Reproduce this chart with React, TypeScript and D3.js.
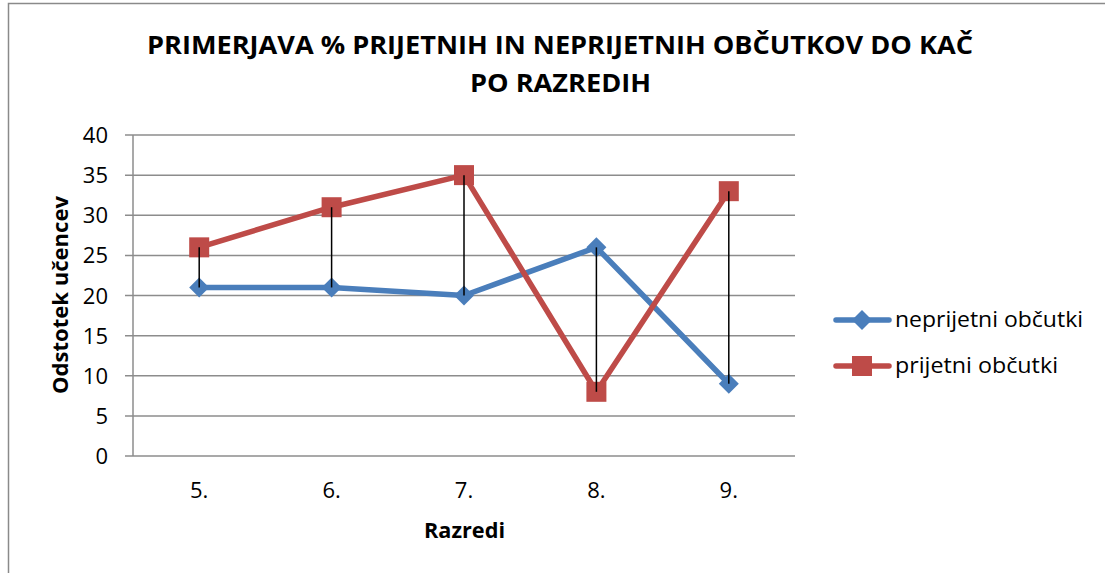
import React from 'react'
import * as d3 from 'd3'

const categories = ['5.', '6.', '7.', '8.', '9.']
const neprijetni = [21, 21, 20, 26, 9]
const prijetni = [26, 31, 35, 8, 33]
const yTicks = [0, 5, 10, 15, 20, 25, 30, 35, 40]
const seriesNames = ['neprijetni občutki', 'prijetni občutki']
const titleLines = ['PRIMERJAVA % PRIJETNIH IN NEPRIJETNIH OBČUTKOV DO KAČ', 'PO RAZREDIH']

const W = 1105
const H = 573
const font = '"Open Sans", "Noto Sans", sans-serif'
const blue = '#4a7ebb'
const red = '#be4b48'
const grid = '#8c8c8c'
const titleX = [147, 470]
const titleLens = [826, 181]
const legendLens = [188, 163]

export default function App() {
  const x = d3.scaleBand().domain(categories).range([133, 795])
  const y = d3.scaleLinear().domain([0, 40]).range([456, 135])
  const cx = (c: string) => (x(c) as number) + x.bandwidth() / 2

  const line = d3.line<number>().x((_, i) => cx(categories[i])).y(d => y(d))

  const diamond = (px: number, py: number, s: number) =>
    `M${px},${py - s}L${px + s},${py}L${px},${py + s}L${px - s},${py}Z`

  return (
    <svg width={W} height={H} style={{ position: 'absolute', left: 0, top: 0 }}>
      <rect x={0} y={0} width={W} height={H} fill="#fff" />
      <path d={`M8.5,${H}V3.5H${W}`} fill="none" stroke="#8a8a8a" strokeWidth={1.5} />

      {titleLines.map((t, i) => (
        <text key={t} x={titleX[i]} y={54 + i * 38}
          textLength={titleLens[i]} lengthAdjust="spacingAndGlyphs"
          fontFamily={font} fontWeight="bold" fontSize={25} fill="#000">{t}</text>
      ))}

      {yTicks.map(t => (
        <g key={t}>
          <line x1={125} x2={795} y1={y(t)} y2={y(t)} stroke={grid} strokeWidth={1.5} />
          <text x={108} y={y(t) + 8} textAnchor="end" fontFamily={font} fontSize={22} fill="#000">{t}</text>
        </g>
      ))}
      <line x1={133} x2={133} y1={y(40)} y2={y(0)} stroke={grid} strokeWidth={1.5} />

      {categories.map(c => (
        <text key={c} x={cx(c)} y={498} textAnchor="middle" fontFamily={font} fontSize={22} fill="#000">{c}</text>
      ))}

      <text x={424} y={538} textLength={81} lengthAdjust="spacingAndGlyphs" fontFamily={font} fontWeight="bold" fontSize={21}>Razredi</text>
      <text transform={`translate(68,394) rotate(-90)`} textLength={198} lengthAdjust="spacingAndGlyphs" fontFamily={font} fontWeight="bold" fontSize={21}>Odstotek učencev</text>

      <path d={line(neprijetni) ?? ''} fill="none" stroke={blue} strokeWidth={5.5} strokeLinejoin="round" />
      <path d={line(prijetni) ?? ''} fill="none" stroke={red} strokeWidth={5.5} strokeLinejoin="round" />

      {neprijetni.map((v, i) => (
        <path key={'n' + i} d={diamond(cx(categories[i]), y(v), 10)} fill={blue} />
      ))}
      {prijetni.map((v, i) => (
        <rect key={'p' + i} x={cx(categories[i]) - 10} y={y(v) - 10} width={20} height={20} fill={red} />
      ))}

      {categories.map((c, i) => (
        <line key={'hl' + c} x1={cx(c)} x2={cx(c)} y1={y(Math.max(neprijetni[i], prijetni[i]))} y2={y(Math.min(neprijetni[i], prijetni[i]))} stroke="#000" strokeWidth={1.5} />
      ))}

      {seriesNames.map((s, i) => {
        const ly = 320 + i * 46
        return (
          <g key={s}>
            <line x1={836} x2={889} y1={ly} y2={ly} stroke={i === 0 ? blue : red} strokeWidth={5.5} strokeLinecap="round" />
            {i === 0
              ? <path d={diamond(862, ly, 10)} fill={blue} />
              : <rect x={852} y={ly - 10} width={20} height={20} fill={red} />}
            <text x={895} y={ly + 7} textLength={legendLens[i]} lengthAdjust="spacingAndGlyphs" fontFamily={font} fontSize={21} fill="#000">{s}</text>
          </g>
        )
      })}
    </svg>
  )
}
